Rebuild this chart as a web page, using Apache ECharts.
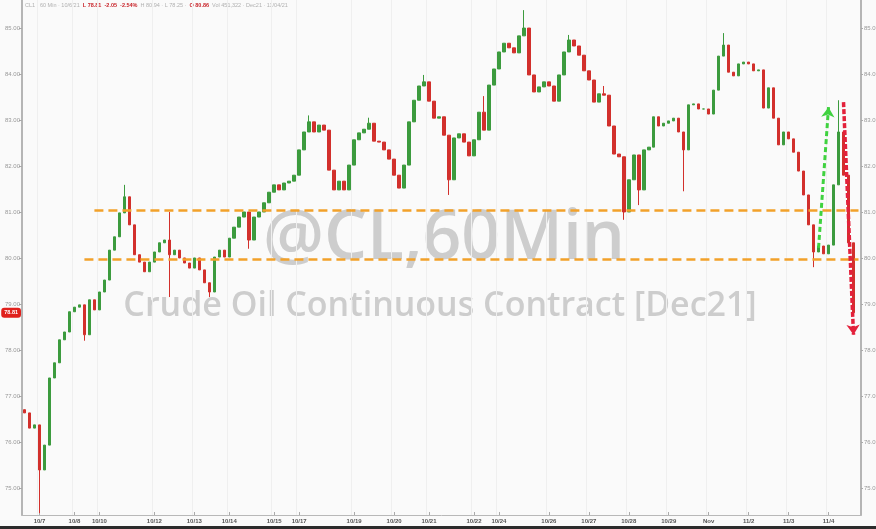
<!DOCTYPE html>
<html><head><meta charset="utf-8">
<script src="https://cdn.jsdelivr.net/npm/echarts@6/dist/echarts.min.js"></script>
<style>html,body{margin:0;padding:0;background:#fafafa}#c{width:876px;height:529px}</style>
</head><body><div id="c"></div><script>
// ---- data (3-hour candles, Crude Oil Dec21, 60Min chart resampled) ----
const firstOpen = 76.70;
const closes = [
76.63,76.30,76.37,75.39,75.93,77.39,77.72,78.22,78.39,78.83,
78.93,78.98,78.33,79.09,78.87,79.26,79.52,80.17,80.46,80.98,
81.33,80.72,80.07,79.91,79.70,79.91,80.13,80.33,80.39,80.07,
80.17,80.00,79.89,79.78,80.00,79.74,79.46,79.26,80.02,80.17,
80.02,80.43,80.67,80.89,81.00,80.39,80.89,81.00,81.20,81.43,
81.59,81.48,81.63,81.67,81.80,82.35,82.74,82.96,82.74,82.89,
82.78,81.91,81.48,81.67,81.48,82.02,82.57,82.72,82.80,82.93,
82.54,82.52,82.35,82.15,81.80,81.52,82.02,82.96,83.43,83.74,
83.83,83.41,83.04,83.07,82.67,81.70,82.61,82.70,82.52,82.22,
82.57,83.17,82.78,83.76,84.11,84.48,84.67,84.57,84.46,84.83,
85.00,83.98,83.61,83.72,83.83,83.74,83.41,83.98,84.48,84.74,
84.61,84.41,84.07,83.87,83.39,83.57,83.54,82.87,82.26,82.20,
81.00,81.70,82.24,81.48,82.35,82.41,83.07,82.87,82.93,82.98,
83.04,82.74,82.35,83.33,83.35,83.24,83.24,83.13,83.65,84.39,
84.63,84.04,83.96,84.22,84.26,84.22,84.07,84.09,83.26,83.70,
83.04,82.46,82.74,82.59,82.30,81.89,81.37,80.72,80.13,80.26,
80.09,80.28,81.59,82.74,81.80,80.33,78.81
];
const highWicks = [[20,81.59],[29,81.00],[57,83.10],[69,83.05],[80,83.98],[92,83.52],[100,85.39],[109,84.85],[116,83.74],[140,84.89],[163,83.43]];
const lowWicks  = [[3,74.45],[12,78.20],[29,79.15],[37,79.15],[45,80.20],[85,81.37],[120,80.83],[123,81.15],[132,81.45],[158,79.80]];
const slotCount = 168;
const dateLabels = ['10/7','10/8','10/10','10/12','10/13','10/14','10/15','10/17','10/19','10/20','10/21','10/22','10/24','10/26','10/27','10/28','10/29','Nov','11/2','11/3','11/4'];
const dateSlots  = [3,10,15,26,34,41,50,55,66,74,81,90,95,105,113,121,129,137,145,153,161];
const supportLevels = [81.03, 79.98];
const supportStart  = [14, 12];
const greenArrow = [[159, 80.22],[161, 83.28]];
const redArrow   = [[164, 83.39],[166, 78.33]];
const yMin = 74.41, yMax = 85.61;

// ---- build ----
const cats = [];
for (let i = 0; i < slotCount; i++) cats.push(String(i));
const candles = closes.map((c, i) => {
  const o = i === 0 ? firstOpen : closes[i - 1];
  return [o, c, Math.min(o, c), Math.max(o, c)];
});
highWicks.forEach(([i, v]) => { candles[i][3] = v; });
lowWicks.forEach(([i, v]) => { candles[i][2] = v; });
const labelMap = {};
dateSlots.forEach((s, k) => { labelMap[s] = dateLabels[k]; });
const lastClose = closes[closes.length - 1];

const orange = '#f2a12a';
const chart = echarts.init(document.getElementById('c'), null, {renderer: 'canvas'});
chart.setOption({
  backgroundColor: '#fafafa',
  animation: false,
  grid: {left: 22, right: 15, top: 0, bottom: 14, outerBoundsMode: 'none', containLabel: false},
  xAxis: {
    type: 'category', data: cats, boundaryGap: true,
    axisLine: {lineStyle: {color: '#b8b8b8', width: 1}},
    axisTick: {show: true, inside: true, length: 3, alignWithLabel: true,
      interval: (i) => labelMap[i] !== undefined, lineStyle: {color: '#aaa'}},
    axisLabel: {interval: (i) => labelMap[i] !== undefined, formatter: (v, i) => labelMap[i] || '',
      fontSize: 6, fontWeight: 'bold', color: '#555', margin: 3, fontFamily: 'Liberation Sans'},
    splitLine: {show: true, interval: (i) => labelMap[i] !== undefined, lineStyle: {color: '#efefef', width: 1}},
    axisPointer: {show: false}
  },
  yAxis: [{
    type: 'value', position: 'left', min: yMin, max: yMax, splitNumber: 11, scale: true,
    axisLine: {show: true, lineStyle: {color: '#b5b5b5', width: 2}},
    axisTick: {show: true, length: 3, lineStyle: {color: '#aaa'}},
    axisLabel: {fontSize: 6, color: '#999', margin: 2, showMinLabel: false, showMaxLabel: false,
      formatter: (v) => v.toFixed(2), fontFamily: 'Liberation Sans'},
    splitLine: {show: false},
    axisPointer: {show: true, value: lastClose, status: 'show', triggerTooltip: false, type: 'line',
      lineStyle: {opacity: 0}, handle: {show: false},
      label: {show: true, formatter: (p) => Number(p.value).toFixed(2), backgroundColor: '#e0201c',
        color: '#fff', fontSize: 5.5, fontWeight: 'bold', padding: [2, 3], borderRadius: 3, margin: 1,
        fontFamily: 'Liberation Sans'}}
  }, {
    type: 'value', position: 'right', min: yMin, max: yMax, splitNumber: 11, scale: true,
    axisLine: {show: true, lineStyle: {color: '#b5b5b5', width: 2}},
    axisTick: {show: true, length: 2, lineStyle: {color: '#aaa'}},
    axisLabel: {fontSize: 6, color: '#999', margin: 3, showMinLabel: false, showMaxLabel: false,
      formatter: (v) => v.toFixed(2), fontFamily: 'Liberation Sans'},
    splitLine: {show: false},
    axisPointer: {show: false}
  }],
  graphic: [
    {type: 'text', x: 444, y: 240, z: 0, silent: true,
     style: {text: '@CL,60Min', textAlign: 'center', textVerticalAlign: 'middle',
       font: '600 68px "Open Sans"', fill: '#cdcdcd'}},
    {type: 'text', x: 440, y: 306, z: 0, silent: true,
     style: {text: 'Crude Oil Continuous Contract [Dec21]', textAlign: 'center', textVerticalAlign: 'middle',
       font: '600 34px "Open Sans"', fill: '#cdcdcd'}},
    {type: 'text', x: 25, y: 2, z: 0, silent: true,
     style: {text: '{g|CL1 · 60 Min · 10/6/21  }{r|L 78.81  -2.05  -2.54%}{g|  H 80.94 · L 78.25 ·  }{r|O 80.86}{g|  Vol 451,322 · Dec21 · 11/04/21}',
       rich: {g: {fill: '#b0b0b0', fontSize: 5.5, fontFamily: 'Liberation Sans'},
              r: {fill: '#c8242a', fontSize: 5.5, fontWeight: 'bold', fontFamily: 'Liberation Sans'}}}},
    {type: 'rect', left: 0, bottom: 0, z: 5, silent: true, shape: {width: 876, height: 3}, style: {fill: '#2b2b2b'}}
  ],
  series: [{
    type: 'candlestick', data: candles, barWidth: 3, z: 2,
    itemStyle: {color: '#3c9b3e', color0: '#d2302c', borderColor: '#3c9b3e', borderColor0: '#d2302c', borderWidth: 1},
    markLine: {
      silent: true, animation: false, symbol: ['none', 'none'],
      label: {show: false},
      data: [
        [{coord: [supportStart[0], supportLevels[0]], lineStyle: {color: orange, width: 2.5, type: [9, 5]}},
         {coord: [slotCount - 1, supportLevels[0]]}],
        [{coord: [supportStart[1], supportLevels[1]], lineStyle: {color: orange, width: 2.5, type: [9, 5]}},
         {coord: [slotCount - 1, supportLevels[1]]}],
        [{coord: greenArrow[0], symbol: 'none', lineStyle: {color: '#3fd23f', width: 3, type: [5, 3]}},
         {coord: greenArrow[1], symbol: 'arrow', symbolSize: 10}],
        [{coord: redArrow[0], symbol: 'none', lineStyle: {color: '#e3213b', width: 3.5, type: [5, 2]}},
         {coord: redArrow[1], symbol: 'arrow', symbolSize: 10}]
      ]
    }
  }]
});
</script></body></html>
